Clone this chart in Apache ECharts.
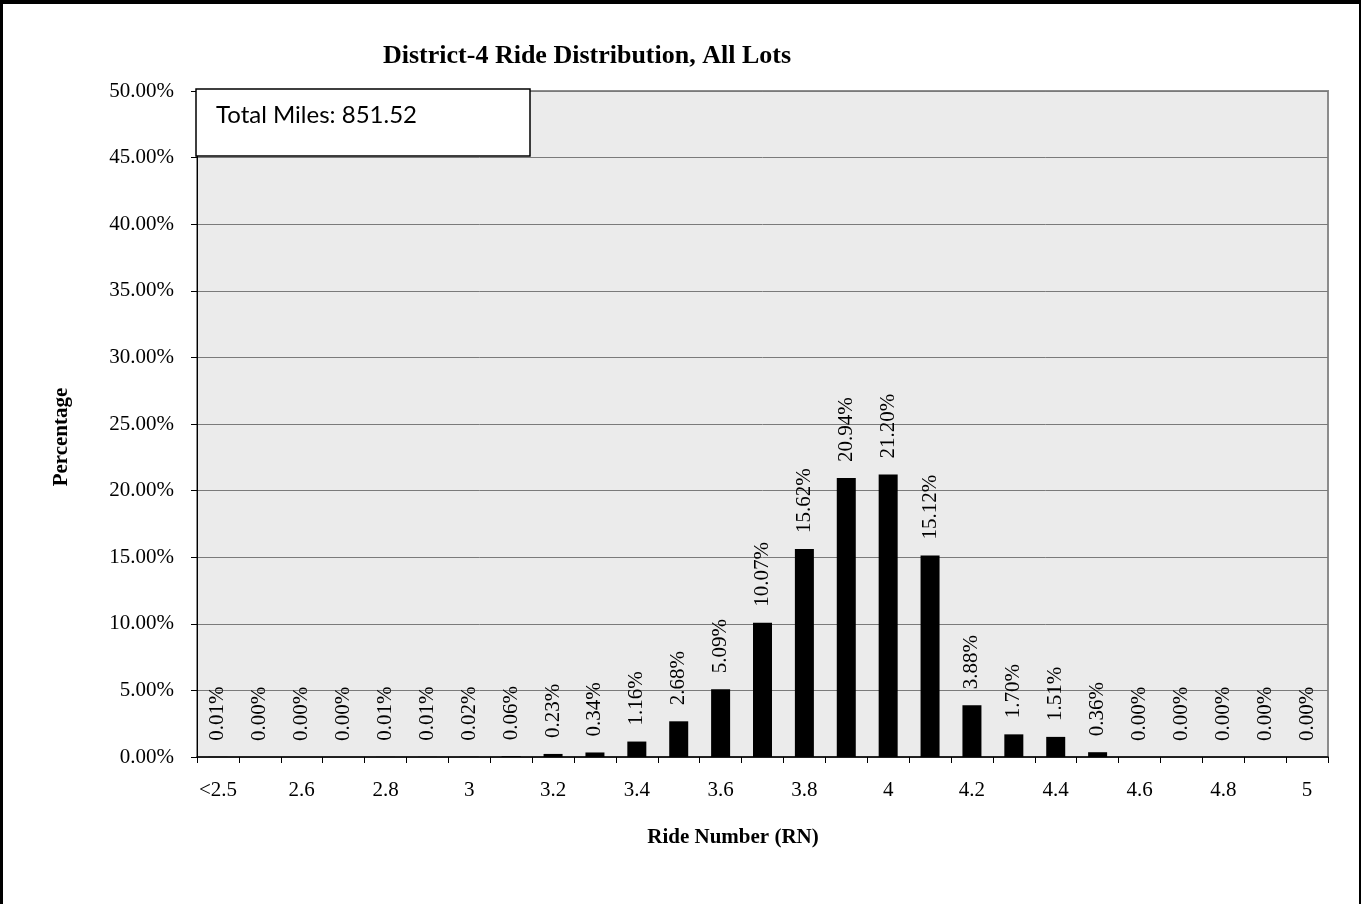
<!DOCTYPE html>
<html>
<head>
<meta charset="utf-8">
<script src="https://cdn.jsdelivr.net/npm/echarts@6/dist/echarts.min.js"></script>
<style>
html,body{margin:0;padding:0;background:#fff;}
#frame{position:absolute;left:0;top:0;width:1361px;height:904px;border-top:4px solid #000;border-left:3px solid #000;border-right:2px solid #000;box-sizing:border-box;}
#chart{position:absolute;left:0;top:0;width:1366px;height:904px;}
</style>
</head>
<body>
<div id="chart"></div>
<div id="frame"></div>
<script>
const categories = ['<2.5','2.5','2.6','2.7','2.8','2.9','3','3.1','3.2','3.3','3.4','3.5','3.6','3.7','3.8','3.9','4','4.1','4.2','4.3','4.4','4.5','4.6','4.7','4.8','4.9','5'];
const percentages = [0.01,0.00,0.00,0.00,0.01,0.01,0.02,0.06,0.23,0.34,1.16,2.68,5.09,10.07,15.62,20.94,21.20,15.12,3.88,1.70,1.51,0.36,0.00,0.00,0.00,0.00,0.00];
const yTicks = {min:0, max:50, interval:5};
const titleText = 'District-4 Ride Distribution, All Lots';
const boxText = 'Total Miles: 851.52';
const xName = 'Ride Number (RN)';
const yName = 'Percentage';

const serif = '"Liberation Serif", "Times New Roman", serif';
const chart = echarts.init(document.getElementById('chart'));
chart.setOption({
  animation:false,
  backgroundColor:'#fff',
  grid:{left:197,right:38,top:91,bottom:147,show:true,backgroundColor:'#ebebeb',borderColor:'#8c8c8c',borderWidth:2},
  xAxis:{
    type:'category',
    data:categories,
    axisLine:{lineStyle:{color:'#000',width:1.5}},
    axisTick:{show:true,interval:0,length:6,lineStyle:{color:'#000'}},
    axisLabel:{interval:1,margin:23,fontFamily:serif,fontSize:21,color:'#000'},
    splitLine:{show:false}
  },
  yAxis:{
    type:'value',
    min:yTicks.min,max:yTicks.max,interval:yTicks.interval,
    axisLine:{show:true,lineStyle:{color:'#000',width:1}},
    axisTick:{show:true,length:6,lineStyle:{color:'#000'}},
    axisLabel:{margin:23,fontFamily:serif,fontSize:21,color:'#000',formatter:v=>v.toFixed(2)+'%'},
    splitLine:{show:true,lineStyle:{color:'#7a7a7a',width:1}}
  },
  series:[{
    type:'bar',
    data:percentages,
    barWidth:19,
    itemStyle:{color:'#000'},
    label:{show:true,position:'top',distance:16,rotate:90,align:'left',verticalAlign:'middle',
      fontFamily:serif,fontSize:21,color:'#000',formatter:p=>p.value.toFixed(2)+'%'}
  }],
  graphic:[
    {type:'text',x:383,y:56,style:{text:titleText,font:'bold 26px '+serif,fill:'#000',verticalAlign:'middle'}},
    {type:'rect',shape:{x:196,y:89,width:334,height:67},style:{fill:'#fff',stroke:'#000',lineWidth:1.5},z:100},
    {type:'text',x:216,y:115,style:{text:boxText,font:'24px Lato, "Open Sans", sans-serif',fill:'#000',verticalAlign:'middle'},z:101},
    {type:'text',x:733,y:838,style:{text:xName,font:'bold 21px '+serif,fill:'#000',align:'center',verticalAlign:'middle'}},
    {type:'text',x:62,y:437,rotation:Math.PI/2,style:{text:yName,font:'bold 21px '+serif,fill:'#000',align:'center',verticalAlign:'middle'}}
  ]
});
</script>
</body>
</html>
